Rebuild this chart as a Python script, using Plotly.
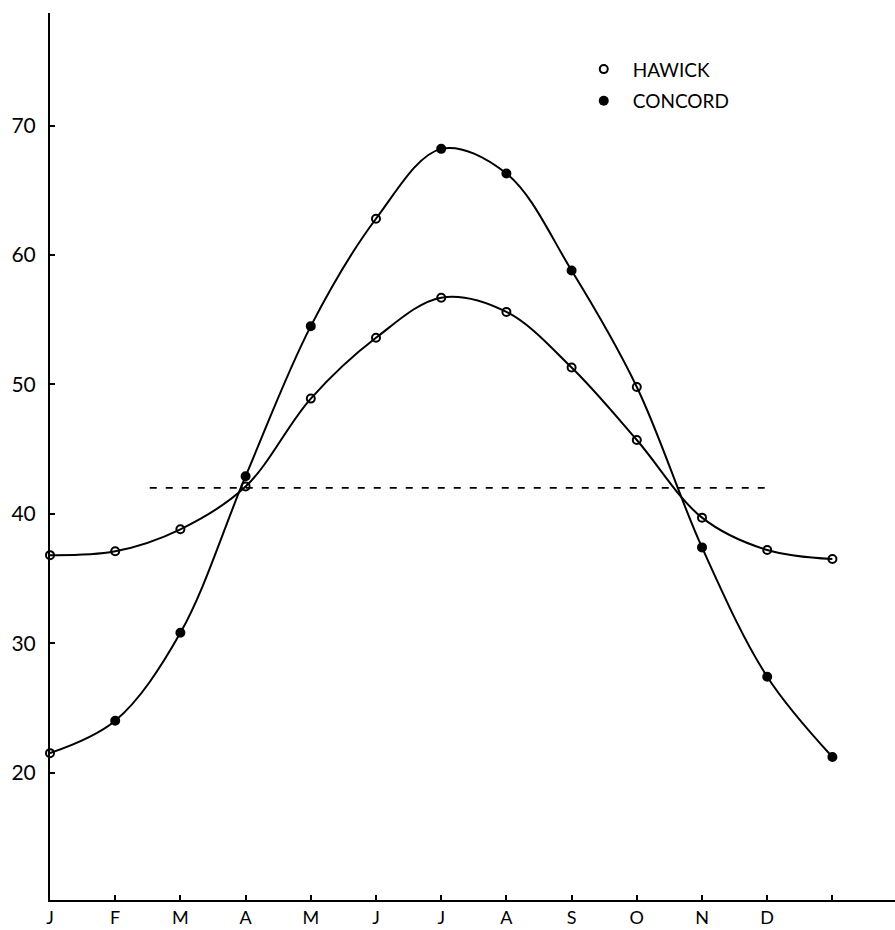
import plotly.graph_objects as go

# ---- data ----
months = ["J", "F", "M", "A", "M", "J", "J", "A", "S", "O", "N", "D", ""]
month_pos = list(range(13))
hawick = [36.8, 37.1, 38.8, 42.1, 48.9, 53.6, 56.7, 55.6, 51.3, 45.7, 39.7, 37.2, 36.5]
concord = [21.5, 24.0, 30.8, 42.9, 54.5, 62.8, 68.2, 66.3, 58.8, 49.8, 37.4, 27.4, 21.2]
# print shows a few Concord points as open circles
concord_open = [True, False, False, False, False, True, False, False, False, True, False, False, False]
mean_level = 42.0
mean_span = [1.53, 11.05]
y_ticks = [20, 30, 40, 50, 60, 70]

FONT = "Lato"

fig = go.Figure()

fig.add_trace(go.Scatter(
    x=mean_span, y=[mean_level, mean_level], mode="lines",
    line=dict(color="black", width=1.6, dash="7px,9px"),
    showlegend=False, hoverinfo="skip"))

fig.add_trace(go.Scatter(
    x=month_pos, y=hawick, mode="lines+markers", name="HAWICK",
    line=dict(color="black", width=2, shape="spline", smoothing=1.0),
    marker=dict(symbol="circle-open", size=8, color="black", line=dict(width=2)),
    cliponaxis=False, showlegend=False))

concord_symbols = ["circle-open" if o else "circle" for o in concord_open]
fig.add_trace(go.Scatter(
    x=month_pos, y=concord, mode="lines+markers", name="CONCORD",
    line=dict(color="black", width=2, shape="spline", smoothing=1.0),
    marker=dict(symbol=concord_symbols, size=8, color="black",
                line=dict(width=2, color="black")),
    cliponaxis=False, showlegend=False))

# legend entries
fig.add_trace(go.Scatter(
    x=[None], y=[None], mode="markers", name="HAWICK", legendgroup="a",
    marker=dict(symbol="circle-open", size=8, color="black", line=dict(width=2))))
fig.add_trace(go.Scatter(
    x=[None], y=[None], mode="markers", name="CONCORD", legendgroup="b",
    marker=dict(symbol="circle", size=10, color="black")))

fig.update_layout(
    width=895, height=930,
    margin=dict(l=50, r=0, t=13, b=30),
    paper_bgcolor="white", plot_bgcolor="white",
    font=dict(family=FONT, color="black", size=17),
    showlegend=True,
    legend=dict(x=0.621, y=0.958, xanchor="left", yanchor="top",
                bgcolor="rgba(0,0,0,0)", font=dict(size=19, family=FONT),
                tracegroupgap=4, traceorder="grouped", itemwidth=48),
)

fig.update_xaxes(
    range=[0, 12.96], tickvals=month_pos, ticktext=months,
    showgrid=False, zeroline=False, showline=True, linecolor="black", linewidth=2,
    ticks="inside", ticklen=5, tickwidth=2, tickcolor="black",
    tickfont=dict(size=18, family=FONT))

fig.update_yaxes(
    range=[10.15, 78.7], tickvals=y_ticks, ticktext=[str(v) for v in y_ticks],
    showgrid=False, zeroline=False, showline=True, linecolor="black", linewidth=2,
    ticks="inside", ticklen=5, tickwidth=2, tickcolor="black",
    tickfont=dict(size=21, family=FONT), ticklabelstandoff=8)

fig.write_html("out.html", config={"displayModeBar": False},
               post_script="document.body.style.margin='0px';document.body.style.overflow='hidden';")
